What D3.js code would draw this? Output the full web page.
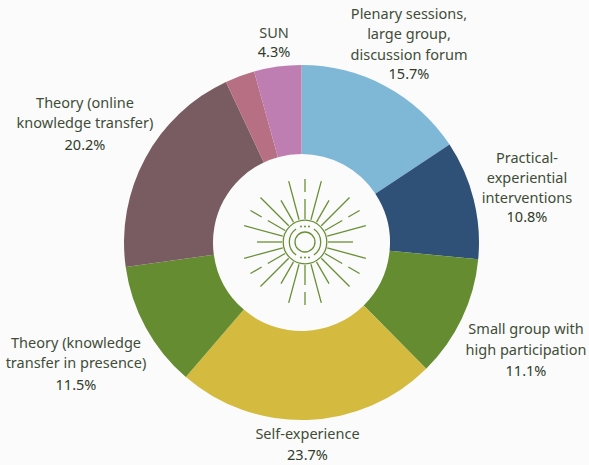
<!DOCTYPE html>
<html>
<head>
<meta charset="utf-8">
<script src="https://cdn.jsdelivr.net/npm/d3@7"></script>
<style>
  html, body { margin: 0; padding: 0; background: #fbfbfb; }
  svg { display: block; }
</style>
</head>
<body>
<svg id="chart"></svg>
<script>
const width = 589;
const height = 465;

const categories = [
    "Plenary sessions, large group, discussion forum",
    "Practical-experiential interventions",
    "Small group with high participation",
    "Self-experience",
    "Theory (knowledge transfer in presence)",
    "Theory (online knowledge transfer)",
    "Other",
    "SUN"
];
const values = [15.7, 10.8, 11.1, 23.7, 11.5, 20.2, 2.7, 4.3];
const colors = ["#7fb7d7", "#2f5178", "#658c31", "#d4bb40", "#658c31", "#795c61", "#b76f84", "#bf7eb1"];
const labelLines = [
    ["Plenary sessions,", "large group,", "discussion forum", "15.7%"],
    ["Practical-", "experiential", "interventions", "10.8%"],
    ["Small group with", "high participation", "11.1%"],
    ["Self-experience", "23.7%"],
    ["Theory (knowledge", "transfer in presence)", "11.5%"],
    ["Theory (online", "knowledge transfer)", "20.2%"],
    [],
    ["SUN", "4.3%"]
];
// x centre and line baselines of each label
const labelX = [409, 527, 526, 307.5, 76, 85, 0, 274];
const labelY = [
    [19, 39, 59.5, 78.5],
    [163, 183, 203, 222],
    [334, 355, 376],
    [439, 460],
    [348, 368, 390],
    [108, 128, 150],
    [],
    [38, 57]
];

const svg = d3.select("#chart")
    .attr("width", width)
    .attr("height", height);

const cx = 301.5, cy = 242.5;

const pie = d3.pie().sort(null).value(d => d);
const arc = d3.arc().innerRadius(88.5).outerRadius(177.5);

svg.append("g")
    .attr("transform", `translate(${cx}, ${cy})`)
    .selectAll("path")
    .data(pie(values))
    .join("path")
    .attr("d", arc)
    .attr("fill", (d, i) => colors[i]);

// Labels
labelLines.forEach((lines, i) => {
    const text = svg.append("text")
        .attr("text-anchor", "middle")
        .style("font-family", "'Noto Sans', sans-serif")
        .style("font-size", "14.5px");
    lines.forEach((line, j) => {
        text.append("tspan")
            .attr("x", labelX[i])
            .attr("y", labelY[i][j])
            .attr("fill", j === lines.length - 1 ? "#2f3c2a" : "#3f4d38")
            .text(line);
    });
});

// Sun icon in the hole
const icon = svg.append("g")
    .attr("transform", "translate(305, 242)")
    .attr("fill", "none")
    .attr("stroke", "#6a8f37")
    .attr("stroke-width", 1.3);

d3.range(0, 360, 15).forEach(a => {
    let parts = [[23, 48]];
    if (a % 30 !== 0) parts = [[23, 63]];
    else if (a % 60 === 0) parts = [[23, 43], [50, 63]];
    const t = a * Math.PI / 180;
    parts.forEach(p => {
        icon.append("line")
            .attr("x1", p[0] * Math.sin(t)).attr("y1", -p[0] * Math.cos(t))
            .attr("x2", p[1] * Math.sin(t)).attr("y2", -p[1] * Math.cos(t));
    });
});

icon.append("circle").attr("r", 21.8);
icon.append("circle").attr("r", 10);

const ringArc = d3.arc().innerRadius(15.7).outerRadius(15.7);
[[0.6, 2.54], [3.74, 5.68]].forEach(r => {
    icon.append("path").attr("d", ringArc({ startAngle: r[0], endAngle: r[1] }));
});
[-4, 0, 4].forEach(x => {
    [-15.4, 15.4].forEach(y => {
        icon.append("circle").attr("cx", x).attr("cy", y).attr("r", 1)
            .attr("fill", "#6a8f37").attr("stroke", "none");
    });
});
</script>
</body>
</html>
